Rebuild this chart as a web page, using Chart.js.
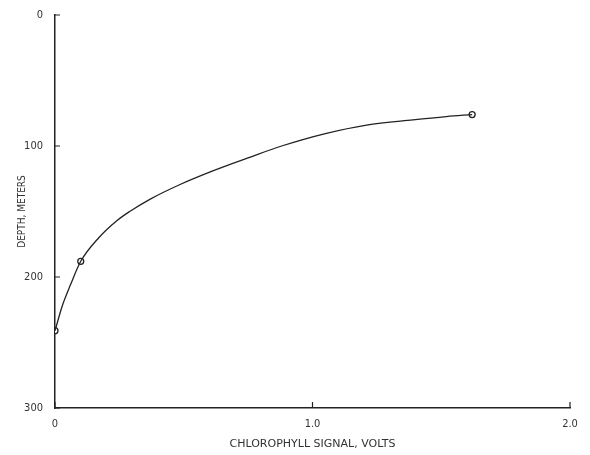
<!DOCTYPE html>
<html>
<head>
<meta charset="utf-8">
<script src="https://cdn.jsdelivr.net/npm/chart.js@4"></script>
<style>
  body { margin: 0; background: #fff; }
  #wrap { width: 590px; height: 455px; }
</style>
</head>
<body>
<div id="wrap"><canvas id="chartCanvas"></canvas></div>
<script>
// measured stations (marked with circles)
const stationVolts = [0.0, 0.1, 1.62];
const stationDepth = [241, 188, 76];

// drawn curve
const curveVolts = [0.0, 0.03, 0.06, 0.1, 0.17, 0.24, 0.29, 0.37, 0.49, 0.6, 0.68, 0.75, 0.88, 1.05, 1.21, 1.39, 1.52, 1.62];
const curveDepth = [241, 221, 206, 188, 170, 157, 150, 140.5, 129, 120, 114, 109, 100, 90.5, 84, 80, 77.5, 76];

const xTicks = [0, 1, 2];
const xTickLabels = ["0", "1.0", "2.0"];
const yTicks = [0, 100, 200, 300];

const ink = "#222";

// short tick marks pointing into the plot, like the original
const innerTicks = {
    id: "innerTicks",
    afterDraw(chart) {
        const c = chart.ctx;
        const area = chart.chartArea;
        const xs = chart.scales.x;
        const ys = chart.scales.y;
        c.save();
        c.strokeStyle = ink;
        c.lineWidth = 1.2;
        c.beginPath();
        yTicks.forEach(v => {
            const p = ys.getPixelForValue(v);
            c.moveTo(area.left, p);
            c.lineTo(area.left + 5, p);
        });
        xTicks.forEach(v => {
            const p = xs.getPixelForValue(v);
            c.moveTo(p, area.bottom);
            c.lineTo(p, area.bottom - 6);
        });
        c.stroke();
        c.restore();
    }
};

let ctx = document.querySelector("#chartCanvas");

let graph = new Chart(ctx, {
    type: "scatter",
    data: {
        datasets: [
            {
                data: curveVolts.map((v, i) => ({ x: v, y: curveDepth[i] })),
                showLine: true,
                borderColor: ink,
                borderWidth: 1.3,
                pointRadius: 0,
                cubicInterpolationMode: "monotone"
            },
            {
                data: stationVolts.map((v, i) => ({ x: v, y: stationDepth[i] })),
                showLine: false,
                pointRadius: 3,
                pointBackgroundColor: "#fff",
                pointBorderColor: ink,
                pointBorderWidth: 1.3
            }
        ]
    },
    options: {
        responsive: true,
        maintainAspectRatio: false,
        animation: false,
        layout: {
            padding: { top: 15, right: 20, left: 0, bottom: 0 }
        },
        plugins: {
            legend: { display: false },
            tooltip: { enabled: false }
        },
        scales: {
            x: {
                type: "linear",
                min: 0,
                max: 2,
                afterFit: (s) => { s.height = 47; },
                afterBuildTicks: (s) => { s.ticks = xTicks.map(v => ({ value: v })); },
                ticks: {
                    color: "#333",
                    padding: 2,
                    font: { family: "DejaVu Sans Condensed", size: 11 },
                    callback: (v) => xTickLabels[xTicks.indexOf(v)]
                },
                grid: { display: false },
                border: { display: true, color: ink, width: 1.5 },
                title: {
                    display: true,
                    text: "CHLOROPHYLL SIGNAL, VOLTS",
                    color: "#333",
                    font: { family: "DejaVu Sans", size: 11 },
                    padding: { top: 4 }
                }
            },
            y: {
                type: "linear",
                reverse: true,
                min: 0,
                max: 300,
                afterFit: (s) => { s.width = 55; },
                afterBuildTicks: (s) => { s.ticks = yTicks.map(v => ({ value: v })); },
                ticks: {
                    color: "#333",
                    padding: 4,
                    font: { family: "DejaVu Sans Condensed", size: 11 }
                },
                grid: { display: false },
                border: { display: true, color: ink, width: 1.5 },
                title: {
                    display: true,
                    text: "DEPTH, METERS",
                    color: "#333",
                    font: { family: "DejaVu Sans Condensed", size: 10 },
                    padding: { top: 16, bottom: 6 }
                }
            }
        }
    },
    plugins: [innerTicks]
});
</script>
</body>
</html>
